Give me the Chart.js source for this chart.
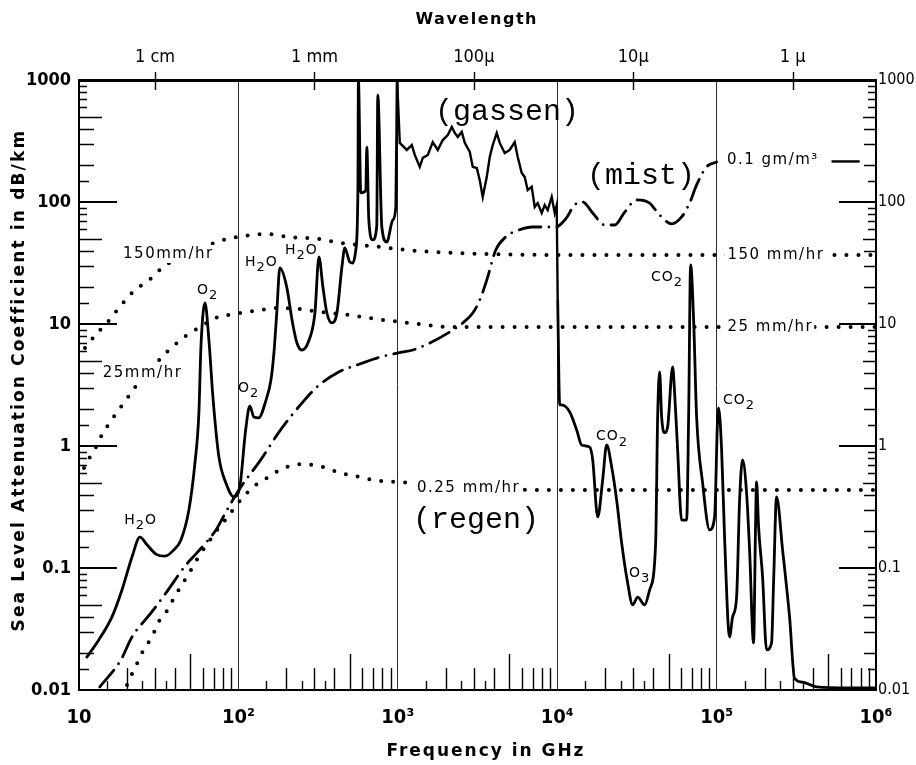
<!DOCTYPE html>
<html lang="en">
<head>
<meta charset="utf-8">
<title>Sea level attenuation</title>
<script src="https://cdn.jsdelivr.net/npm/chart.js@4.4.1/dist/chart.umd.min.js"></script>
<style>
  html, body { margin: 0; padding: 0; background: #fff; }
  #wrap { position: relative; width: 916px; height: 765px; }
</style>
</head>
<body>
<div id="wrap"><canvas id="chart"></canvas></div>
<script>
// frequency in GHz, attenuation in dB/km

// solid curve: gaseous absorption
const gasFreq = [11.1, 13.3, 16.1, 18.6, 21.5, 24.1, 26.7, 30.4, 34.6, 39.4, 43.6, 48.9, 53.4, 56.5, 58.2, 61.7, 65.3, 69.2, 75.5, 83.5,
  93.7, 102, 111, 118, 125, 134, 149, 160, 167, 174, 182, 201, 217, 233, 250, 273, 302, 320, 339, 359,
  386, 415, 446, 465, 500, 522, 545, 562, 566, 586, 630, 639, 658, 697, 738, 749, 794, 853, 930, 972,
  990, 1029, 1139, 1224, 1278, 1373, 1435, 1542, 1658, 1781, 1915, 2058, 2181, 2278, 2378, 2519, 2631, 2828, 2953, 3129,
  3267, 3411, 3614, 3775, 3941, 4175, 4360, 4687, 5038, 5414, 5655, 5991, 6256, 6531, 6920, 7226, 7546, 7996, 8350, 8718,
  9238, 9645, 9930, 10070, 10370, 10670, 11980, 13260, 14240, 15990, 16700, 17950, 19290, 20430, 21970, 23600, 25380, 27670, 29740, 31970,
  35370, 37990, 41460, 42670, 43920, 45200, 47210, 49290, 52990, 54540, 56950, 60340, 64850, 66760, 68710, 71760, 74930, 81700, 90390, 97160,
  101500, 102900, 107500, 112200, 120600, 126000, 133500, 139400, 145500, 154200, 161000, 170600, 175500, 178100, 183400, 194300, 205800, 221200, 227700, 237800,
  259400, 286900, 308300, 346100, 423600, 682300, 1000000];
const gasAtten = [0.0183, 0.0257, 0.0397, 0.066, 0.123, 0.179, 0.155, 0.130, 0.125, 0.141, 0.170, 0.299, 0.73, 1.86, 6.47, 14.9, 7.40, 2.52, 0.81, 0.498,
  0.382, 0.462, 1.35, 2.13, 1.73, 1.70, 2.38, 3.48, 5.78, 12.3, 28.8, 20.1, 10.8, 6.99, 6.12, 6.99, 12.3, 35.4, 20.1, 12.3,
  10.2, 12.3, 29.3, 42.0, 32.2, 31.6, 40.4, 125, 1000, 119, 125, 282, 71.2, 48.9, 63.6, 754, 62.4, 47.0, 71.2, 91,
  1000, 305, 267, 293, 243, 194, 230, 243, 310, 267, 322, 354, 413, 368, 341, 375, 305, 257, 194, 190,
  151, 110, 160, 234, 293, 368, 305, 252, 267, 310, 234, 173, 160, 125, 133, 91, 98, 81.3, 94.5, 85.9,
  110, 81.3, 94.5, 15.7, 2.17, 2.17, 1.90, 1.35, 1.02, 0.98, 0.77, 0.262, 0.527, 1.02, 0.673, 0.361, 0.160, 0.0753, 0.0498, 0.0578,
  0.0498, 0.066, 0.160, 1.73, 4.04, 1.73, 1.28, 1.43, 4.44, 2.72, 0.93, 0.247, 0.247, 1.73, 30.5, 10.8, 1.73, 0.498, 0.205, 0.262,
  1.73, 2.05, 0.93, 0.179, 0.0272, 0.0397, 0.0578, 0.361, 0.77, 0.412, 0.141, 0.0243, 0.217, 0.507, 0.217, 0.0844, 0.0213, 0.0243, 0.0753, 0.382,
  0.141, 0.0397, 0.0125, 0.0116, 0.0106, 0.0104, 0.0104];

// dash-dot curve: fog / mist 0.1 g/m3
const fogFreq = [13.5, 18.3, 21.5, 28.3, 35.1, 46.9, 54.9, 72.3, 83.5, 100.7, 138, 182, 254, 311, 415, 553, 739, 1059, 1242, 1587,
  2118, 2556, 2953, 3267, 3614, 4116, 4754, 5736, 7022, 9786, 11300, 12870, 14450, 16700, 19860, 22930, 26500, 31510, 37990, 43920,
  52230, 60340, 67700, 74930, 86560, 100000];
const fogAtten = [0.0106, 0.0176, 0.0272, 0.0428, 0.0624, 0.106, 0.133, 0.205, 0.288, 0.436, 0.77, 1.33, 2.30, 3.05, 3.97, 4.61, 5.26, 5.89, 6.12, 6.99,
  8.60, 10.2, 12.3, 15.7, 22.9, 40.4, 51.7, 58.9, 62.4, 62.4, 72.6, 94.5, 100, 81.3, 64.8, 64.8, 82.7, 104, 98, 78.2,
  66.1, 75.4, 98, 138, 194, 213];
const mistTailFreq = [526000, 790000];
const mistTailAtten = [215, 215];

// dotted curves: rain
const rain150Freq = [10.9, 13.0, 15.0, 16.8, 18.9, 21.5, 24.8, 29.1, 33.6, 49.6, 73.3, 99.3, 147, 210, 315, 446, 771, 1139, 2344, 9786, 1000000];
const rain150Atten = [6.35, 8.44, 10.2, 12.3, 14.9, 18.0, 20.9, 24.3, 29.3, 37.5, 47.0, 51.7, 54.7, 51.7, 49.8, 46.1, 42.8, 40.4, 38.2, 36.8, 36.8];
const rain25Freq = [10.75, 11.7, 13.0, 14.1, 15.6, 17.3, 19.4, 21.8, 27.9, 35.6, 41.2, 47.6, 57.4, 74.4, 88.5, 110, 136, 169, 243, 293,
  479, 805, 1189, 2118, 9786, 1000000];
const rain25Atten = [0.66, 0.81, 1.02, 1.28, 1.55, 1.90, 2.30, 2.88, 4.20, 5.89, 6.99, 8.13, 9.45, 11.4, 11.9, 12.5, 13.0, 13.5, 13.3, 12.8,
  11.9, 10.8, 10.2, 9.45, 9.45, 9.45];
const rain025Freq = [20.0, 21.8, 23.4, 25.6, 28.7, 31.3, 35.6, 40.0, 44.9, 50.4, 56.5, 64.4, 74.4, 84.7, 95.1, 110, 131, 151, 177, 210,
  250, 293, 359, 433, 538, 649, 794, 986, 1224, 7770, 1000000];
const rain025Atten = [0.0110, 0.0141, 0.0170, 0.0217, 0.0272, 0.0354, 0.0444, 0.0589, 0.0753, 0.0964, 0.125, 0.160, 0.209, 0.257, 0.316, 0.397, 0.489, 0.547, 0.624, 0.685,
  0.711, 0.70, 0.66, 0.601, 0.568, 0.537, 0.517, 0.507, 0.498, 0.436, 0.436];

// axis ticks
const freqTicks = [10, 100, 1000, 10000, 100000, 1000000];
const freqLabels = ['10', '10²', '10³', '10⁴', '10⁵', '10⁶'];
const attenTicks = [0.01, 0.1, 1, 10, 100, 1000];
const attenLabels = ['0.01', '0.1', '1', '10', '100', '1000'];
const waveTicks = [30, 300, 3000, 30000, 300000];
const waveLabels = ['1 cm', '1 mm', '100μ', '10μ', '1 μ'];

// annotations: [text, freq, atten] = left edge, vertical centre
const gasNotes = [['H2O', 19.2, 0.247], ['O2', 55.0, 19.0], ['O2', 99.4, 2.99], ['H2O', 110, 32.2], ['H2O', 196, 40.4],
  ['CO2', 38770, 24.3], ['CO2', 17520, 1.19], ['CO2', 109600, 2.38], ['O3', 28210, 0.091]];
const rateNotes = [['150mm/hr', 18.9, 37.5], ['25mm/hr', 14.1, 3.96], ['0.25 mm/hr', 1320, 0.453],
  ['150 mm/hr', 117000, 36.8], ['25 mm/hr', 117000, 9.45], ['0.1 gm/m³', 116100, 221]];
const regionNotes = [['(gassen)', 1712, 547], ['(mist)', 15380, 163], ['(regen)', 1246, 0.247]];

// the far-infrared band is a ragged trace, drawn without smoothing
const RAGGED_FROM = 990;
const RAGGED_TO = 10070;

const MINOR_X = [1.5, 2, 2.5, 3, 3.5, 4, 5, 6, 7, 8, 9];
const MINOR_Y = [1.5, 2, 3, 4, 5, 6, 7, 8, 9];

const TICK_FONT = "'Liberation Sans Narrow', 'DejaVu Sans Condensed', 'Liberation Sans', sans-serif";
const SANS = "'DejaVu Sans', 'Liberation Sans', sans-serif";
const MONO = "'Liberation Mono', 'DejaVu Sans Mono', monospace";

function pairs(xs, ys) {
  return xs.map((x, i) => ({ x, y: ys[i] }));
}

function curve(data, extra) {
  return Object.assign({
    data,
    xAxisID: 'x',
    yAxisID: 'y',
    borderColor: '#000',
    borderWidth: 2.8,
    pointRadius: 0,
    fill: false,
    cubicInterpolationMode: 'monotone'
  }, extra);
}

const gasPoints = pairs(gasFreq, gasAtten);

const datasets = [
  curve(gasPoints.filter(p => p.x <= RAGGED_FROM), { label: 'gas' }),
  curve(gasPoints.filter(p => p.x >= RAGGED_FROM && p.x <= RAGGED_TO), { label: 'gas far-IR', cubicInterpolationMode: 'default', tension: 0, borderWidth: 2.4 }),
  curve(gasPoints.filter(p => p.x >= RAGGED_TO), { label: 'gas IR' }),
  curve(pairs(fogFreq, fogAtten), { label: 'mist', borderDash: [22, 8, 0, 8], borderCapStyle: 'round' }),
  curve(pairs(mistTailFreq, mistTailAtten), { label: 'mist tail', borderWidth: 2.4 }),
  curve(pairs(rain150Freq, rain150Atten), { label: '150 mm/hr', borderWidth: 4, borderDash: [0, 12], borderCapStyle: 'round' }),
  curve(pairs(rain25Freq, rain25Atten), { label: '25 mm/hr', borderWidth: 4, borderDash: [0, 12], borderCapStyle: 'round' }),
  curve(pairs(rain025Freq, rain025Atten), { label: '0.25 mm/hr', borderWidth: 4, borderDash: [0, 12], borderCapStyle: 'round' })
];

function xTickLen(m) { return m === 5 ? 36 : (Number.isInteger(m) ? 22 : 9); }
function leftTickLen(m) { if (m === 5) return 23; if (m === 1.5) return 10; if (m <= 4) return 15; return 8; }
function rightTickLen(m) { if (m === 5) return 13; if (m === 1.5) return 8; if (m <= 4) return 12; return 8; }

function fitText(ctx, text, x, y, width) {
  ctx.letterSpacing = '0px';
  const w = ctx.measureText(text).width;
  ctx.letterSpacing = ((width - w) / (text.length - 1)) + 'px';
  ctx.textAlign = 'left';
  ctx.fillText(text, x - width / 2, y);
  ctx.letterSpacing = '0px';
}

function drawChem(ctx, text, x, y) {
  let cx = x;
  for (const ch of text) {
    const sub = /\d/.test(ch);
    ctx.font = (sub ? '13px ' : '14px ') + SANS;
    ctx.fillText(ch, cx, sub ? y + 6 : y);
    cx += ctx.measureText(ch).width + 1;
  }
}

const decorPlugin = {
  id: 'decor',
  afterDraw(chart) {
    const { ctx, chartArea: a, scales } = chart;
    const sx = scales.x, sy = scales.y;
    ctx.save();
    ctx.fillStyle = '#000';
    ctx.textBaseline = 'middle';
    ctx.textAlign = 'left';

    // rain / mist labels sit on a white patch that breaks the line
    ctx.font = '15px ' + SANS;
    ctx.letterSpacing = '1.5px';
    rateNotes.forEach(([t, f, v]) => {
      const px = sx.getPixelForValue(f), py = sy.getPixelForValue(v);
      const w = ctx.measureText(t).width;
      ctx.fillStyle = '#fff';
      ctx.fillRect(px - 3, py - 9, w + 4, 18);
      ctx.fillStyle = '#000';
      ctx.fillText(t, px, py);
    });
    ctx.letterSpacing = '0px';

    gasNotes.forEach(([t, f, v]) => drawChem(ctx, t, sx.getPixelForValue(f), sy.getPixelForValue(v)));

    ctx.font = '30px ' + MONO;
    regionNotes.forEach(([t, f, v]) => ctx.fillText(t, sx.getPixelForValue(f), sy.getPixelForValue(v)));

    // inward minor ticks
    ctx.strokeStyle = '#000';
    ctx.lineWidth = 1.4;
    ctx.beginPath();
    for (let d = 1; d <= 5; d++) {
      MINOR_X.forEach(m => {
        const px = Math.round(sx.getPixelForValue(m * 10 ** d)) + 0.5;
        ctx.moveTo(px, a.bottom);
        ctx.lineTo(px, a.bottom - xTickLen(m));
      });
    }
    for (let d = -2; d <= 2; d++) {
      MINOR_Y.forEach(m => {
        const py = Math.round(sy.getPixelForValue(m * 10 ** d)) + 0.5;
        ctx.moveTo(a.left, py);
        ctx.lineTo(a.left + leftTickLen(m), py);
        ctx.moveTo(a.right, py);
        ctx.lineTo(a.right - rightTickLen(m), py);
      });
    }
    waveTicks.forEach(f => {
      const px = Math.round(sx.getPixelForValue(f)) + 0.5;
      ctx.moveTo(px, a.top - 8);
      ctx.lineTo(px, a.top + 10);
    });
    ctx.stroke();

    // major decade ticks on both sides
    ctx.lineWidth = 2;
    ctx.beginPath();
    [0.1, 1, 10, 100].forEach(v => {
      const py = Math.round(sy.getPixelForValue(v));
      ctx.moveTo(a.left, py);
      ctx.lineTo(a.left + 38, py);
      ctx.moveTo(a.right, py);
      ctx.lineTo(a.right - 37, py);
    });
    ctx.stroke();

    // axis titles
    ctx.fillStyle = '#000';
    ctx.font = 'bold 16px ' + SANS;
    fitText(ctx, 'Wavelength', 476, 20, 121);
    ctx.font = 'bold 17px ' + SANS;
    fitText(ctx, 'Frequency in GHz', 485, 752, 197);
    ctx.translate(20, 382);
    ctx.rotate(-Math.PI / 2);
    fitText(ctx, 'Sea Level Attenuation Coefficient in dB/km', 0, 0, 499);
    ctx.restore();
  }
};

new Chart(document.getElementById('chart'), {
  type: 'line',
  data: { datasets },
  options: {
    responsive: true,
    maintainAspectRatio: false,
    animation: false,
    layout: { padding: 0 },
    plugins: { legend: { display: false }, tooltip: { enabled: false } },
    scales: {
      x: {
        type: 'logarithmic', position: 'bottom', min: 10, max: 1e6,
        afterBuildTicks: s => { s.ticks = freqTicks.map(v => ({ value: v })); },
        afterFit: s => { s.height = 75; },
        ticks: { autoSkip: false, maxRotation: 0, padding: 16, color: '#000',
          font: { family: TICK_FONT, size: 20, weight: 'bold' }, callback: (v, i) => freqLabels[i] },
        grid: { color: '#2a2a2a', lineWidth: 1, drawTicks: false },
        border: { color: '#000', width: 2 }
      },
      x2: {
        type: 'logarithmic', position: 'top', min: 10, max: 1e6,
        afterBuildTicks: s => { s.ticks = waveTicks.map(v => ({ value: v })); },
        afterFit: s => { s.height = 80; },
        ticks: { autoSkip: false, maxRotation: 0, padding: 12, color: '#000',
          font: { family: TICK_FONT, size: 18 }, callback: (v, i) => waveLabels[i] },
        grid: { display: false, drawTicks: false },
        border: { color: '#000', width: 3 }
      },
      y: {
        type: 'logarithmic', position: 'left', min: 0.01, max: 1000,
        afterBuildTicks: s => { s.ticks = attenTicks.map(v => ({ value: v })); },
        afterFit: s => { s.width = 79; },
        ticks: { autoSkip: false, padding: 8, color: '#000',
          font: { family: TICK_FONT, size: 18, weight: 'bold' }, callback: (v, i) => attenLabels[i] },
        grid: { display: false, drawTicks: false },
        border: { color: '#000', width: 2 }
      },
      y2: {
        type: 'logarithmic', position: 'right', min: 0.01, max: 1000,
        afterBuildTicks: s => { s.ticks = attenTicks.map(v => ({ value: v })); },
        afterFit: s => { s.width = 40; },
        ticks: { autoSkip: false, padding: 2, color: '#000',
          font: { family: TICK_FONT, size: 16 }, callback: (v, i) => attenLabels[i] },
        grid: { display: false, drawTicks: false },
        border: { color: '#000', width: 2 }
      }
    }
  },
  plugins: [decorPlugin]
});
</script>
</body>
</html>
